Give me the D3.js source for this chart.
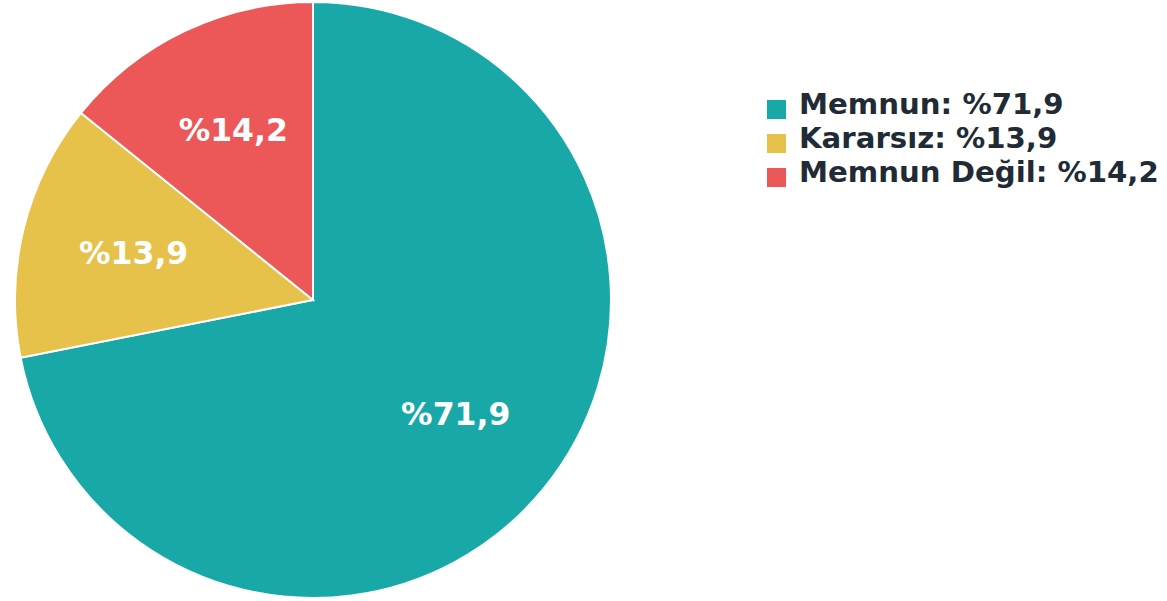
<!DOCTYPE html>
<html>
<head>
<meta charset="utf-8">
<script src="https://cdn.jsdelivr.net/npm/d3@7"></script>
<style>
  body { margin: 0; background: #fff; }
  svg { display: block; }
</style>
</head>
<body>
<div id="chart"></div>
<script>
const categories = ["Memnun", "Kararsız", "Memnun Değil"];
const values = [71.9, 13.9, 14.2];
const colors = ["#19A8A8", "#E6C24A", "#EC5858"];

const width = 1167, height = 601;
const cx = 313, cy = 300, radius = 298;

const data = categories.map((c, i) => ({ name: c, value: values[i], color: colors[i] }));
const fmt = v => "%" + String(v).replace(".", ",");

const svg = d3.select("#chart").append("svg")
    .attr("width", width)
    .attr("height", height);

const pie = d3.pie().value(d => d.value).sort(null);
const arc = d3.arc().innerRadius(0).outerRadius(radius);
const labelArc = d3.arc().innerRadius(radius * 0.62).outerRadius(radius * 0.62);

const g = svg.append("g").attr("transform", `translate(${cx},${cy})`);
const arcs = pie(data);

g.selectAll("path")
    .data(arcs)
    .join("path")
    .attr("d", arc)
    .attr("fill", d => d.data.color)
    .attr("stroke", "#fff")
    .attr("stroke-width", 2);

// labels inside slices
g.selectAll("text")
    .data(arcs)
    .join("text")
    .attr("transform", d => {
        const [x, y] = labelArc.centroid(d);
        return `translate(${x},${y - 3})`;
    })
    .attr("text-anchor", "middle")
    .attr("dominant-baseline", "central")
    .attr("font-family", "DejaVu Sans")
    .attr("font-weight", "bold")
    .attr("font-size", "31.5px")
    .attr("fill", "#fff")
    .text(d => fmt(d.data.value));

// legend
const legend = svg.append("g").attr("transform", "translate(767,100)");
const row = legend.selectAll("g")
    .data(data)
    .join("g")
    .attr("transform", (d, i) => `translate(0,${i * 34})`);

row.append("rect")
    .attr("width", 19)
    .attr("height", 19)
    .attr("fill", d => d.color);

row.append("text")
    .attr("x", 32)
    .attr("y", 14)
    .attr("font-family", "DejaVu Sans")
    .attr("font-weight", "bold")
    .attr("font-size", "29.2px")
    .attr("fill", "#212B36")
    .text(d => `${d.name}: ${fmt(d.value)}`);
</script>
</body>
</html>
